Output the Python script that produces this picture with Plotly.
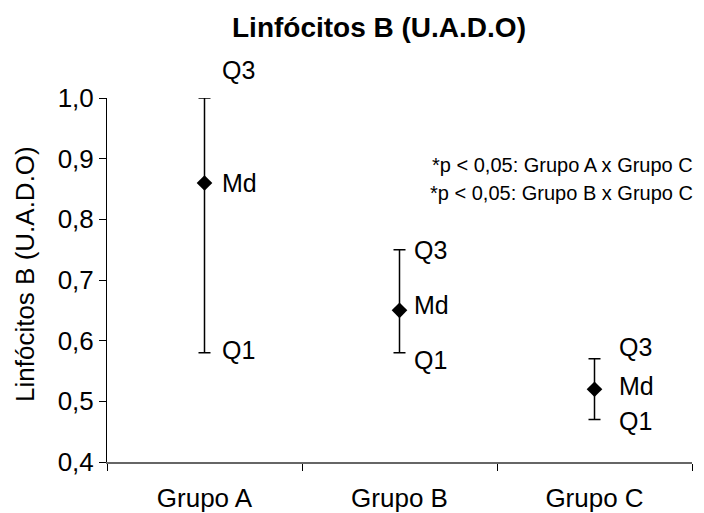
import plotly.graph_objects as go

groups = ["Grupo A", "Grupo B", "Grupo C"]
q1 = [0.58, 0.58, 0.47]
md = [0.86, 0.65, 0.52]
q3 = [1.00, 0.75, 0.57]
label_names = ["Q3", "Md", "Q1"]
y_ticks = [0.4, 0.5, 0.6, 0.7, 0.8, 0.9, 1.0]
y_tick_text = ["0,4", "0,5", "0,6", "0,7", "0,8", "0,9", "1,0"]
notes = ["*p < 0,05: Grupo A x Grupo C", "*p < 0,05: Grupo B x Grupo C"]

FONT = "Liberation Sans, Arial, sans-serif"

fig = go.Figure()
fig.add_trace(go.Scatter(
    x=groups, y=md, mode="markers",
    marker=dict(symbol="diamond", size=12, color="black"),
    error_y=dict(type="data", symmetric=False,
                 array=[h - m for h, m in zip(q3, md)],
                 arrayminus=[m - l for m, l in zip(md, q1)],
                 color="black", thickness=1.5, width=6),
    cliponaxis=False, showlegend=False, hoverinfo="skip",
))

# label offsets (pixels) per group: (xshift, [Q3, Md, Q1] yshift)
x_shifts = [15, 12, 22]
y_shifts = [[28, 0, 3], [0, 5, -7], [12, 3, -1]]
for i, g in enumerate(groups):
    for j, (name, val) in enumerate(zip(label_names, [q3[i], md[i], q1[i]])):
        fig.add_annotation(x=g, y=val, text=name, showarrow=False,
                           xanchor="left", yanchor="middle",
                           xshift=x_shifts[i], yshift=y_shifts[i][j],
                           font=dict(family=FONT, size=25, color="black"))

for k, t in enumerate(notes):
    fig.add_annotation(xref="paper", yref="paper", x=1.0, y=1.0, text=t,
                       showarrow=False, xanchor="right", yanchor="middle",
                       yshift=-(165 - 98) - 28 * k, xshift=3,
                       font=dict(family=FONT, size=20, color="black"))

fig.add_annotation(xref="paper", yref="paper", x=0, y=0.5,
                   text="Linfócitos B (U.A.D.O)", textangle=-90,
                   showarrow=False, xanchor="center", yanchor="middle",
                   xshift=-82, yshift=6,
                   font=dict(family=FONT, size=26, color="black"))

fig.update_layout(
    width=704, height=513,
    margin=dict(l=107, r=12, t=98, b=51, autoexpand=False),
    paper_bgcolor="white", plot_bgcolor="white",
    title=dict(text="<b>Linfócitos B (U.A.D.O)</b>", x=379 / 704, y=1 - 27 / 513,
               xanchor="center", yanchor="middle",
               font=dict(family=FONT, size=28, color="black")),
    font=dict(family=FONT, size=26, color="black"),
)
fig.update_yaxes(range=[0.4, 1.0], tickvals=y_ticks, ticktext=y_tick_text,
                 showline=True, linecolor="black", linewidth=1,
                 ticks="outside", ticklen=7, tickcolor="black",
                 showgrid=False, zeroline=False, automargin=False,
                 tickfont=dict(family=FONT, size=26, color="black"))
fig.update_xaxes(type="category", range=[-0.5, 2.5], tickson="boundaries",
                 showline=True, linecolor="#666", linewidth=1.5,
                 ticks="outside", ticklen=7, tickcolor="black",
                 showgrid=False, zeroline=False, ticklabelstandoff=12,
                 automargin=False,
                 tickfont=dict(family=FONT, size=26, color="black"))

fig.write_html("out.html")
